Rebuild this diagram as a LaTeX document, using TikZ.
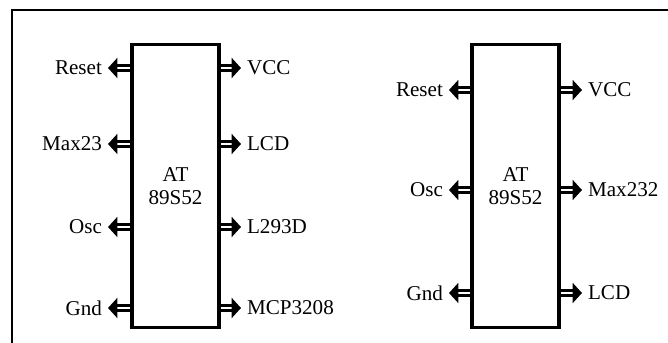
\documentclass[tikz,border=0pt]{standalone}
\usepackage{fontspec}
\setmainfont{Liberation Serif}
\usetikzlibrary{positioning,arrows.meta}

\begin{document}
\begin{tikzpicture}[
    x=0.03cm, y=-0.03cm,
    every node/.style={font=\fontsize{18}{20}\selectfont},
    chip/.style={draw, line width=3pt, minimum width=2.62cm, minimum height=8.5cm, align=center, inner sep=0pt},
    pinlabel/.style={inner sep=5pt},
    pin/.style={line width=2.5pt, double=white, double distance=1.4pt, -{Triangle[length=8pt,width=17pt]}}
]
\useasboundingbox (0,0) rectangle (668,343);
% frame
\draw[line width=1.8pt] (12,343) -- (12,10) -- (668,10);

% first version
\node[chip] (chipA) at (175.5,186) {AT\\89S52};
\node[pinlabel, anchor=east] (aReset) at (108,68) {Reset};
\node[pinlabel, anchor=east] (aMax) at (108,144) {Max23};
\node[pinlabel, anchor=east] (aOsc) at (108,227) {Osc};
\node[pinlabel, anchor=east] (aGnd) at (108,308) {Gnd};
\node[pinlabel, anchor=west] (aVcc) at (241,68) {VCC};
\node[pinlabel, anchor=west] (aLcd) at (241,144) {LCD};
\node[pinlabel, anchor=west] (aDrv) at (241,227) {L293D};
\node[pinlabel, anchor=west] (aAdc) at (241,308) {MCP3208};
\draw[pin] (chipA.west |- aReset) -- (aReset.east);
\draw[pin] (chipA.west |- aMax) -- (aMax.east);
\draw[pin] (chipA.west |- aOsc) -- (aOsc.east);
\draw[pin] (chipA.west |- aGnd) -- (aGnd.east);
\draw[pin] (chipA.east |- aVcc) -- (aVcc.west);
\draw[pin] (chipA.east |- aLcd) -- (aLcd.west);
\draw[pin] (chipA.east |- aDrv) -- (aDrv.west);
\draw[pin] (chipA.east |- aAdc) -- (aAdc.west);

% second version
\node[chip] (chipB) at (515.5,186) {AT\\89S52};
\node[pinlabel, anchor=east] (bReset) at (449,90) {Reset};
\node[pinlabel, anchor=east] (bOsc) at (449,190) {Osc};
\node[pinlabel, anchor=east] (bGnd) at (449,293) {Gnd};
\node[pinlabel, anchor=west] (bVcc) at (582,90) {VCC};
\node[pinlabel, anchor=west] (bMax) at (582,190) {Max232};
\node[pinlabel, anchor=west] (bLcd) at (582,293) {LCD};
\draw[pin] (chipB.west |- bReset) -- (bReset.east);
\draw[pin] (chipB.west |- bOsc) -- (bOsc.east);
\draw[pin] (chipB.west |- bGnd) -- (bGnd.east);
\draw[pin] (chipB.east |- bVcc) -- (bVcc.west);
\draw[pin] (chipB.east |- bMax) -- (bMax.west);
\draw[pin] (chipB.east |- bLcd) -- (bLcd.west);
\end{tikzpicture}
\end{document}
